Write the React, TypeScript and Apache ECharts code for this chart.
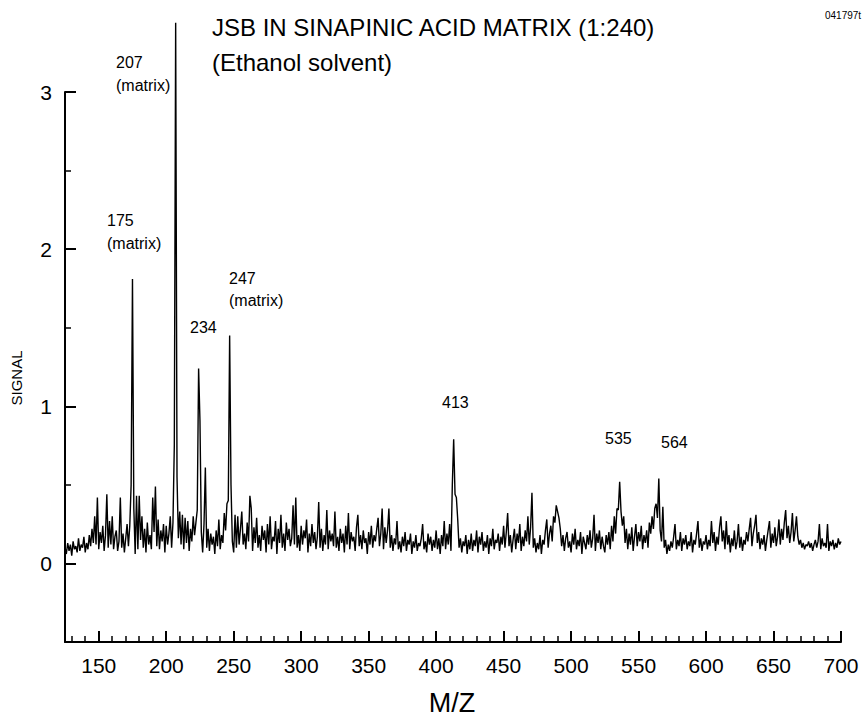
import { useEffect, useRef } from "react";
import * as echarts from "echarts";

// ---- data (signal read at every integer m/z) ----
const mzStart = 125;
const signal125to224 = [
  0.10, 0.06, 0.13, 0.08, 0.12, 0.05, 0.14, 0.09, 0.11, 0.07,
  0.16, 0.08, 0.12, 0.10, 0.17, 0.07, 0.13, 0.09, 0.18, 0.11,
  0.22, 0.13, 0.30, 0.12, 0.42, 0.09, 0.20, 0.13, 0.24, 0.08,
  0.18, 0.44, 0.10, 0.27, 0.12, 0.30, 0.09, 0.17, 0.21, 0.08,
  0.14, 0.42, 0.10, 0.19, 0.07, 0.16, 0.25, 0.11, 0.24, 0.50,
  1.81, 0.35, 0.06, 0.43, 0.09, 0.43, 0.15, 0.30, 0.10, 0.22,
  0.07, 0.26, 0.12, 0.18, 0.09, 0.42, 0.20, 0.49, 0.11, 0.28,
  0.09, 0.21, 0.14, 0.25, 0.07, 0.24, 0.12, 0.19, 0.30, 0.10,
  0.26, 0.75, 3.44, 0.55, 0.16, 0.33, 0.12, 0.31, 0.09, 0.29,
  0.13, 0.27, 0.08, 0.22, 0.14, 0.30, 0.18, 0.26, 0.34, 1.24,
];
const signal225to324 = [
  0.91, 0.20, 0.07, 0.25, 0.61, 0.10, 0.22, 0.08, 0.19, 0.12,
  0.17, 0.06, 0.21, 0.11, 0.28, 0.09, 0.18, 0.13, 0.32, 0.21,
  0.38, 0.40, 1.45, 0.50, 0.14, 0.07, 0.31, 0.10, 0.30, 0.12,
  0.22, 0.33, 0.12, 0.19, 0.09, 0.26, 0.14, 0.43, 0.35, 0.08,
  0.23, 0.13, 0.29, 0.10, 0.18, 0.08, 0.24, 0.15, 0.21, 0.07,
  0.25, 0.12, 0.30, 0.09, 0.17, 0.14, 0.27, 0.06, 0.22, 0.13,
  0.31, 0.10, 0.19, 0.08, 0.26, 0.15, 0.22, 0.11, 0.16, 0.37,
  0.12, 0.42, 0.10, 0.18, 0.08, 0.24, 0.12, 0.21, 0.16, 0.28,
  0.07, 0.19, 0.11, 0.25, 0.13, 0.20, 0.09, 0.17, 0.39, 0.10,
  0.22, 0.08, 0.18, 0.12, 0.34, 0.09, 0.21, 0.14, 0.19, 0.11,
];
const signal325to424 = [
  0.33, 0.10, 0.17, 0.08, 0.22, 0.13, 0.19, 0.07, 0.24, 0.12,
  0.32, 0.09, 0.20, 0.14, 0.17, 0.08, 0.23, 0.31, 0.11, 0.18,
  0.09, 0.21, 0.13, 0.16, 0.06, 0.20, 0.12, 0.24, 0.10, 0.18,
  0.14, 0.22, 0.29, 0.11, 0.19, 0.35, 0.09, 0.23, 0.13, 0.21,
  0.35, 0.10, 0.18, 0.08, 0.16, 0.12, 0.27, 0.09, 0.14, 0.07,
  0.17, 0.11, 0.20, 0.08, 0.15, 0.12, 0.19, 0.06, 0.14, 0.10,
  0.18, 0.08, 0.13, 0.11, 0.16, 0.25, 0.09, 0.14, 0.07, 0.19,
  0.12, 0.17, 0.08, 0.15, 0.10, 0.21, 0.09, 0.16, 0.06, 0.18,
  0.11, 0.27, 0.09, 0.19, 0.12, 0.25, 0.08, 0.50, 0.79, 0.44,
  0.42, 0.28, 0.10, 0.16, 0.07, 0.14, 0.11, 0.18, 0.06, 0.15,
];
const signal425to524 = [
  0.09, 0.19, 0.08, 0.15, 0.11, 0.21, 0.07, 0.17, 0.12, 0.20,
  0.08, 0.14, 0.10, 0.18, 0.06, 0.16, 0.11, 0.22, 0.09, 0.15,
  0.13, 0.19, 0.08, 0.17, 0.12, 0.24, 0.10, 0.20, 0.32, 0.11,
  0.18, 0.07, 0.15, 0.22, 0.09, 0.19, 0.13, 0.25, 0.08, 0.17,
  0.11, 0.21, 0.14, 0.30, 0.12, 0.23, 0.45, 0.10, 0.16, 0.07,
  0.13, 0.09, 0.18, 0.06, 0.15, 0.12, 0.21, 0.28, 0.10, 0.19,
  0.24, 0.14, 0.30, 0.26, 0.37, 0.33, 0.29, 0.22, 0.11, 0.18,
  0.08, 0.16, 0.20, 0.10, 0.14, 0.07, 0.19, 0.12, 0.22, 0.09,
  0.15, 0.11, 0.20, 0.06, 0.17, 0.13, 0.09, 0.18, 0.12, 0.21,
  0.10, 0.16, 0.31, 0.08, 0.19, 0.13, 0.21, 0.09, 0.17, 0.11,
];
const signal525to624 = [
  0.07, 0.18, 0.12, 0.20, 0.09, 0.24, 0.14, 0.30, 0.19, 0.35,
  0.34, 0.52, 0.33, 0.24, 0.30, 0.13, 0.22, 0.09, 0.19, 0.12,
  0.23, 0.08, 0.17, 0.25, 0.11, 0.20, 0.14, 0.24, 0.09, 0.18,
  0.13, 0.21, 0.10, 0.26, 0.19, 0.30, 0.22, 0.35, 0.38, 0.29,
  0.54, 0.21, 0.14, 0.36, 0.10, 0.15, 0.06, 0.12, 0.08, 0.14,
  0.10, 0.17, 0.25, 0.09, 0.15, 0.11, 0.20, 0.08, 0.16, 0.12,
  0.18, 0.09, 0.14, 0.11, 0.20, 0.07, 0.15, 0.12, 0.19, 0.27,
  0.10, 0.16, 0.08, 0.14, 0.12, 0.18, 0.09, 0.15, 0.11, 0.27,
  0.13, 0.20, 0.08, 0.17, 0.12, 0.23, 0.30, 0.14, 0.21, 0.09,
  0.27, 0.12, 0.18, 0.07, 0.16, 0.11, 0.21, 0.09, 0.14, 0.25,
];
const signal625to700 = [
  0.10, 0.17, 0.08, 0.15, 0.12, 0.20, 0.14, 0.22, 0.29, 0.11,
  0.19, 0.24, 0.31, 0.13, 0.20, 0.09, 0.16, 0.12, 0.18, 0.08,
  0.15, 0.21, 0.27, 0.10, 0.19, 0.13, 0.23, 0.11, 0.17, 0.28,
  0.12, 0.22, 0.15, 0.26, 0.34, 0.16, 0.24, 0.13, 0.20, 0.32,
  0.14, 0.21, 0.30, 0.17, 0.12, 0.15, 0.10, 0.13, 0.09, 0.12,
  0.11, 0.14, 0.10, 0.13, 0.08, 0.12, 0.15, 0.10, 0.14, 0.25,
  0.09, 0.16, 0.11, 0.13, 0.10, 0.25, 0.08, 0.14, 0.11, 0.15,
  0.09, 0.13, 0.10, 0.16, 0.12, 0.14,
];

// ---- axes ----
const xMin = 125;
const xMax = 700;
const xMajorTicks = [150, 200, 250, 300, 350, 400, 450, 500, 550, 600, 650, 700];
const xMinorTicks = [
  130, 140, 160, 170, 180, 190, 210, 220, 230, 240, 260, 270, 280, 290,
  310, 320, 330, 340, 360, 370, 380, 390, 410, 420, 430, 440, 460, 470,
  480, 490, 510, 520, 530, 540, 560, 570, 580, 590, 610, 620, 630, 640,
  660, 670, 680, 690,
];
const yMin = -0.5;
const yMax = 3;
const yMajorTicks = [0, 1, 2, 3];
const yMinorTicks = [0.5, 1.5, 2.5];

// ---- texts ----
const titleLines = ["JSB IN SINAPINIC ACID MATRIX (1:240)", "(Ethanol solvent)"];
const fileTag = "041797t";
const xAxisTitle = "M/Z";
const yAxisTitle = "SIGNAL";
const peakLabels = ["175", "(matrix)", "207", "(matrix)", "247", "(matrix)", "234", "413", "535", "564"];

// layout of the peak labels (left x, middle y, in pixels)
const peakLabelLayout: [number, number][] = [
  [107, 220], [107, 243],
  [116, 62], [116, 85],
  [229, 278], [229, 300],
  [190, 327],
  [442, 402],
  [605, 438],
  [661, 442],
];

const FONT = '"Liberation Sans", Arial, Helvetica, sans-serif';

export default function App() {
  const ref = useRef<HTMLDivElement>(null);

  useEffect(() => {
    document.body.style.margin = "0";
    if (!ref.current) return;
    const chart = echarts.init(ref.current, null, { renderer: "svg" });

    const signal = [
      ...signal125to224,
      ...signal225to324,
      ...signal325to424,
      ...signal425to524,
      ...signal525to624,
      ...signal625to700,
    ];
    const data = signal.map((v, i) => [mzStart + i, v]);

    const txt = (
      text: string,
      x: number,
      y: number,
      size: number,
      align = "left",
      extra: any = {}
    ) => ({
      type: "text",
      x,
      y,
      silent: true,
      ...extra,
      style: {
        text,
        fill: "#000",
        fontSize: size,
        fontFamily: FONT,
        align,
        verticalAlign: "middle",
        textAlign: align,
        textVerticalAlign: "middle",
      },
    });

    const graphics: any[] = [
      txt(titleLines[0], 212, 27, 24),
      txt(titleLines[1], 212, 62, 24),
      txt(fileTag, 825, 15, 10),
      txt(xAxisTitle, 452, 703, 27, "center"),
      txt(yAxisTitle, 16, 378, 15, "center", { rotation: Math.PI / 2 }),
      ...peakLabels.map((t, i) => txt(t, peakLabelLayout[i][0], peakLabelLayout[i][1], 16)),
    ];

    const axisLineStyle = { color: "#000", width: 2 };

    chart.setOption({
      animation: false,
      backgroundColor: "#fff",
      grid: { left: 65, right: 26, top: 92, bottom: 78, containLabel: false },
      xAxis: [
        {
          type: "value",
          min: xMin,
          max: xMax,
          position: "bottom",
          axisLine: { show: true, onZero: false, lineStyle: axisLineStyle },
          axisTick: { show: true, inside: true, length: 11, lineStyle: { color: "#000", width: 2 }, customValues: xMajorTicks },
          axisLabel: { show: true, customValues: xMajorTicks, color: "#000", fontSize: 21, fontFamily: FONT, margin: 13 },
          splitLine: { show: false },
        },
        {
          type: "value",
          min: xMin,
          max: xMax,
          position: "bottom",
          axisLine: { show: false, onZero: false },
          axisTick: { show: true, inside: true, length: 6, lineStyle: { color: "#000", width: 1.5 }, customValues: xMinorTicks },
          axisLabel: { show: false },
          splitLine: { show: false },
        },
      ],
      yAxis: [
        {
          type: "value",
          min: yMin,
          max: yMax,
          position: "left",
          axisLine: { show: true, onZero: false, lineStyle: axisLineStyle },
          axisTick: { show: true, inside: true, length: 11, lineStyle: { color: "#000", width: 2 }, customValues: yMajorTicks },
          axisLabel: { show: true, customValues: yMajorTicks, color: "#000", fontSize: 21, fontFamily: FONT, margin: 13 },
          splitLine: { show: false },
        },
        {
          type: "value",
          min: yMin,
          max: yMax,
          position: "left",
          axisLine: { show: false, onZero: false },
          axisTick: { show: true, inside: true, length: 6, lineStyle: { color: "#000", width: 1.5 }, customValues: yMinorTicks },
          axisLabel: { show: false },
          splitLine: { show: false },
        },
      ],
      series: [
        {
          type: "line",
          xAxisIndex: 0,
          yAxisIndex: 0,
          data,
          showSymbol: false,
          symbol: "none",
          clip: false,
          lineStyle: { color: "#000", width: 1.4 },
          silent: true,
        },
      ],
      graphic: graphics,
    });

    return () => chart.dispose();
  }, []);

  return <div ref={ref} style={{ width: 867, height: 720, background: "#fff" }} />;
}
